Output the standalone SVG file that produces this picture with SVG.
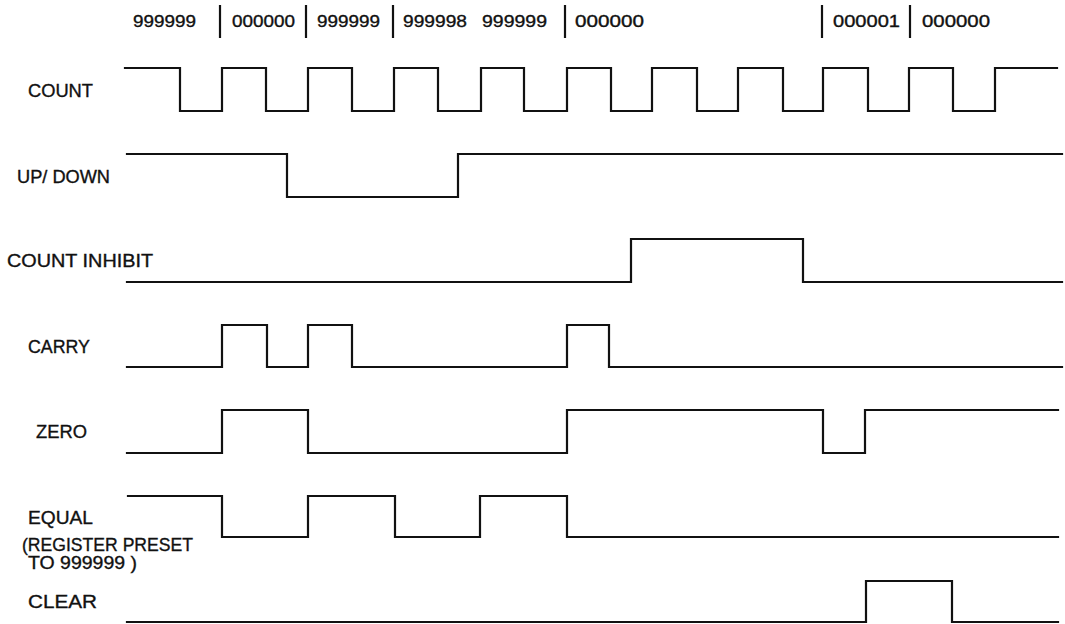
<svg xmlns="http://www.w3.org/2000/svg" width="1065" height="624" viewBox="0 0 1065 624">
<style>
.lbl{font-family:"Liberation Sans","DejaVu Sans",Arial,sans-serif;font-size:18px;fill:#111;stroke:#111;stroke-width:0.35}
.num{font-family:"Liberation Sans","DejaVu Sans",Arial,sans-serif;font-size:16.5px;fill:#111;stroke:#111;stroke-width:0.35}
.w{fill:none;stroke:#111;stroke-width:2.2;stroke-linejoin:miter;stroke-linecap:square}
.bar{stroke:#111;stroke-width:2.2}
</style>
<rect width="1065" height="624" fill="#fff"/>
<g id="counter-values">
<text class="num" x="133" y="27" textLength="63" lengthAdjust="spacingAndGlyphs">999999</text>
<line class="bar" x1="220" y1="5" x2="220" y2="38"/>
<text class="num" x="232" y="27" textLength="63" lengthAdjust="spacingAndGlyphs">000000</text>
<line class="bar" x1="306" y1="5" x2="306" y2="38"/>
<text class="num" x="317" y="27" textLength="63" lengthAdjust="spacingAndGlyphs">999999</text>
<line class="bar" x1="393" y1="5" x2="393" y2="38"/>
<text class="num" x="403" y="27" textLength="64" lengthAdjust="spacingAndGlyphs">999998</text>
<text class="num" x="482" y="27" textLength="65" lengthAdjust="spacingAndGlyphs">999999</text>
<line class="bar" x1="565" y1="5" x2="565" y2="38"/>
<text class="num" x="575" y="27" textLength="69" lengthAdjust="spacingAndGlyphs">000000</text>
<line class="bar" x1="822" y1="5" x2="822" y2="38"/>
<text class="num" x="833" y="27" textLength="67" lengthAdjust="spacingAndGlyphs">000001</text>
<line class="bar" x1="910" y1="5" x2="910" y2="38"/>
<text class="num" x="922" y="27" textLength="68" lengthAdjust="spacingAndGlyphs">000000</text>
</g>
<g id="count">
<text class="lbl" x="28" y="97" textLength="65" lengthAdjust="spacingAndGlyphs">COUNT</text>
</g>
<g id="up-down">
<text class="lbl" x="17" y="183" textLength="93" lengthAdjust="spacingAndGlyphs">UP/ DOWN</text>
</g>
<g id="count-inhibit">
<text class="lbl" x="7" y="267" textLength="146" lengthAdjust="spacingAndGlyphs">COUNT INHIBIT</text>
</g>
<g id="carry">
<text class="lbl" x="28" y="353" textLength="62" lengthAdjust="spacingAndGlyphs">CARRY</text>
</g>
<g id="zero">
<text class="lbl" x="36" y="438" textLength="51" lengthAdjust="spacingAndGlyphs">ZERO</text>
</g>
<g id="equal">
<text class="lbl" x="28" y="524" textLength="65" lengthAdjust="spacingAndGlyphs">EQUAL</text>
<text class="lbl" x="22" y="551" textLength="171" lengthAdjust="spacingAndGlyphs">(REGISTER PRESET</text>
<text class="lbl" x="28" y="569" textLength="109" lengthAdjust="spacingAndGlyphs">TO 999999 )</text>
</g>
<g id="clear">
<text class="lbl" x="28" y="608" textLength="69" lengthAdjust="spacingAndGlyphs">CLEAR</text>
</g>
<g id="waveforms">
<path class="w" d="M125,68 H180 V111 H222 V68 H266 V111 H308 V68 H352 V111 H394 V68 H438 V111 H481 V68 H524 V111 H567 V68 H611 V111 H652 V68 H697 V111 H738 V68 H783 V111 H823 V68 H868 V111 H909 V68 H953 V111 H995 V68 H1057"/>
<path class="w" d="M127,154 H287 V197 H458 V154 H1062"/>
<path class="w" d="M127,282 H631 V239 H803 V282 H1062"/>
<path class="w" d="M127,367 H222 V325 H267 V367 H308 V325 H352 V367 H567 V325 H609 V367 H1062"/>
<path class="w" d="M127,453 H222 V410 H308 V453 H567 V410 H823 V453 H865 V410 H1058"/>
<path class="w" d="M128,496 H222 V537 H308 V496 H395 V537 H480 V496 H567 V537 H1058"/>
<path class="w" d="M127,622 H866 V581 H952 V622 H1058"/>
</g>
</svg>
